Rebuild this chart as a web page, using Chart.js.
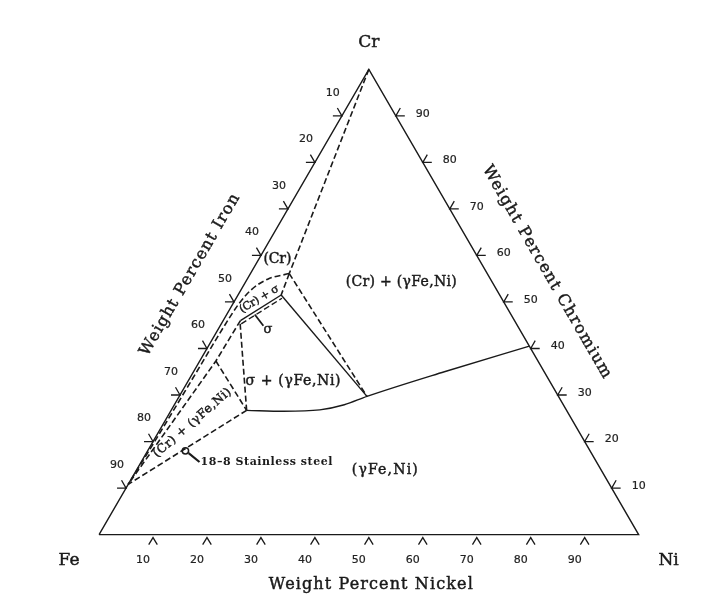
<!DOCTYPE html>
<html><head><meta charset="utf-8">
<script src="https://cdn.jsdelivr.net/npm/chart.js@4.4.1/dist/chart.umd.min.js"></script>
<style>html,body{margin:0;padding:0;background:#fff;} #wrap{width:716px;height:598px;position:relative;}</style>
</head><body><div id="wrap"><canvas id="c"></canvas></div>
<script>
// ---- Data: compositions as [Ni wt%, Cr wt%] (Fe = remainder) ----
const tickValues = [10, 20, 30, 40, 50, 60, 70, 80, 90];
const triangleEdge = [[0, 0], [100, 0], [0, 100], [0, 0]];          // Fe -> Ni -> Cr -> Fe
const crToJ1 = [[0, 100], [7.2, 56.1]];                               // (Cr) / (Cr)+(gFe,Ni)
const j1ToG1 = [[7.2, 56.1], [34.8, 29.7]];
const j1ToS2 = [[7.2, 56.1], [8.0, 51.5]];
const s2ToG1 = [[8.0, 51.5], [34.8, 29.7]];
const sigmaUpper = [[3.2, 46.0], [8.0, 51.5]];
const sigmaLower = [[3.7, 45.3], [8.5, 50.8]];
const crArc = [[7.2, 56.1], [3.8, 54.9], [1.9, 52.6], [1.1, 49.5], [0.8, 45.0], [0.6, 35.0], [0.3, 20.0], [0, 10.8]];
const s3WF = [[3.2, 46.0], [3.0, 37.3], [0, 10.8]];
const s3ToV = [[3.5, 45.3], [14.0, 26.7]];
const wToV = [[3.0, 37.3], [14.0, 26.7]];
const vToF = [[14.0, 26.7], [0, 10.8]];
const gammaBoundary = [[14.0, 26.7], [21.0, 26.5], [27.5, 26.8], [31.5, 27.9], [34.8, 29.7], [46.5, 35.0], [59.5, 40.5]];
const steel188 = [[7.0, 18.0]];

// ---- ternary -> cartesian ----
const S3 = Math.sqrt(3) / 2;
const toXY = p => ({ x: p[0] + p[1] / 2, y: p[1] * S3 });

function line(pts, dashed, width, smooth) {
  return {
    data: pts.map(toXY), showLine: true, borderColor: '#1a1a1a', backgroundColor: '#1a1a1a',
    borderWidth: width || 1.3, borderDash: dashed ? [6, 3] : [], pointRadius: 0,
    tension: smooth ? 0.4 : 0, cubicInterpolationMode: smooth ? 'monotone' : 'default',
    fill: false, clip: false
  };
}

const datasets = [
  line(triangleEdge, false, 1.4),
  line(crToJ1, true, 1.6),
  line(j1ToG1, true, 1.6),
  line(j1ToS2, true, 1.6),
  line(s2ToG1, false, 1.4),
  line(sigmaUpper, false, 1.4),
  line(sigmaLower, true, 1.4),
  line(crArc, true, 1.6, true),
  line(s3WF, true, 1.6),
  line(s3ToV, true, 1.6),
  line(wToV, true, 1.6),
  line(vToF, true, 1.6),
  line(gammaBoundary, false, 1.4, true),
  { data: steel188.map(toXY), showLine: false, pointRadius: 3.2, pointBackgroundColor: '#fff',
    pointBorderColor: '#1a1a1a', pointBorderWidth: 1.5, clip: false }
];

// ---- labels (positions as compositions) ----
const regionLabels = [
  { t: '(Cr)', p: [3.5, 59.1], w: 28 },
  { t: '(Cr) + (\u03b3Fe,Ni)', p: [28.9, 54.2], w: 111 },
  { t: '(Cr) + \u03c3', p: [4.4, 50.6], w: 44, rot: -31, size: 11 },
  { t: '\u03c3', p: [9.3, 44.0], size: 13 },
  { t: '\u03c3 + (\u03b3Fe,Ni)', p: [19.5, 32.9], w: 95 },
  { t: '(Cr) + (\u03b3Fe,Ni)', p: [5.3, 24.0], w: 99, rot: -41, size: 12 },
  { t: '(\u03b3Fe,Ni)', p: [46.0, 13.9], w: 66 }
];

function drawText(ctx, s, x, y, o) {
  ctx.save();
  ctx.font = o.font;
  ctx.fillStyle = o.color || '#1a1a1a';
  ctx.strokeStyle = o.color || '#1a1a1a';
  const sw = o.stroke == null ? 0.45 : o.stroke;
  if (sw > 0) ctx.lineWidth = sw;
  ctx.setLineDash([]);
  ctx.textAlign = o.align || 'center';
  ctx.textBaseline = 'middle';
  ctx.translate(x, y);
  if (o.rot) ctx.rotate(o.rot * Math.PI / 180);
  let shift = 0;
  if (o.w && 'letterSpacing' in ctx) {
    ctx.letterSpacing = '0px';
    const w = ctx.measureText(s).width;
    const n = [...s].length;
    let ls = (o.w - w) / Math.max(1, n - 1);
    ls = Math.max(-1.5, Math.min(5, ls));
    ctx.letterSpacing = ls.toFixed(2) + 'px';
    if ((o.align || 'center') === 'center') shift = ls / 2;
  }
  ctx.fillText(s, shift, 0);
  if (sw > 0) ctx.strokeText(s, shift, 0);
  ctx.restore();
}

const decor = {
  id: 'decor',
  afterDatasetsDraw(chart) {
    const ctx = chart.ctx, sx = chart.scales.x, sy = chart.scales.y;
    const P = p => { const q = toXY(p); return [sx.getPixelForValue(q.x), sy.getPixelForValue(q.y)]; };
    ctx.save();
    ctx.setLineDash([]);
    const L = 9;
    const tickFont = '11px "DejaVu Sans"';
    const tk = { font: tickFont, color: '#222', stroke: 0.2 };
    tickValues.forEach(v => {
      ctx.strokeStyle = '#1a1a1a'; ctx.lineWidth = 1.3;
      // bottom (Ni)
      let [x, y] = P([v, 0]);
      ctx.beginPath();
      ctx.moveTo(x - 4.3, y + 10); ctx.lineTo(x, y + 3); ctx.lineTo(x + 4.3, y + 10); ctx.stroke();
      // left (Fe): Fe = v -> Cr = 100 - v
      let [lx, ly] = P([0, 100 - v]);
      ctx.beginPath();
      ctx.moveTo(lx - L, ly); ctx.lineTo(lx, ly); ctx.lineTo(lx - L * 0.5, ly - L * S3); ctx.stroke();
      // right (Cr)
      let [rx, ry] = P([100 - v, v]);
      ctx.beginPath();
      ctx.moveTo(rx + L, ry); ctx.lineTo(rx, ry); ctx.lineTo(rx + L * 0.5, ry - L * S3); ctx.stroke();
      drawText(ctx, String(v), x - 10, y + 26, tk);
      drawText(ctx, String(v), lx - 9, ly - 23, tk);
      drawText(ctx, String(v), rx + 27, ry - 2, tk);
    });

    // corner labels
    const cf = '17px "DejaVu Serif"';
    let [x, y] = P([0, 100]); drawText(ctx, 'Cr', x, y - 27, { font: cf });
    [x, y] = P([0, 0]); drawText(ctx, 'Fe', x - 30, y + 26, { font: cf });
    [x, y] = P([100, 0]); drawText(ctx, 'Ni', x + 30, y + 26, { font: cf });

    // axis titles
    const tf = '16px "DejaVu Serif"';
    [x, y] = P([0, 50]);
    drawText(ctx, 'Weight Percent Iron', x - 44, y - 27, { font: tf, rot: -60, w: 184 });
    [x, y] = P([50, 50]);
    drawText(ctx, 'Weight Percent Chromium', x + 43, y - 30, { font: tf, rot: 60, w: 243 });
    [x, y] = P([50, 0]);
    drawText(ctx, 'Weight Percent Nickel', x + 2, y + 50, { font: tf, w: 204 });

    // region labels
    regionLabels.forEach(r => {
      const [px, py] = P(r.p);
      drawText(ctx, r.t, px, py, { font: (r.size || 14) + 'px "DejaVu Serif"', rot: r.rot, w: r.w });
    });

    // sigma leader
    let [ax, ay] = P([5.2, 47.3]), [bx, by] = P([8.0, 44.9]);
    ctx.strokeStyle = '#1a1a1a';
    ctx.lineWidth = 1.8;
    ctx.beginPath(); ctx.moveTo(ax, ay); ctx.lineTo(bx, by); ctx.stroke();
    // 18-8 leader + text
    [ax, ay] = P(steel188[0]);
    [bx, by] = P([11.0, 15.6]);
    const ang = Math.atan2(by - ay, bx - ax);
    ctx.lineWidth = 2.2;
    ctx.beginPath(); ctx.moveTo(ax + 4 * Math.cos(ang), ay + 4 * Math.sin(ang)); ctx.lineTo(bx - 1, by); ctx.stroke();
    drawText(ctx, '18\u20138 Stainless steel', bx, by, { font: 'bold 11px "DejaVu Serif"', align: 'left', w: 132, stroke: 0 });
    ctx.restore();
  }
};

new Chart(document.getElementById('c'), {
  type: 'scatter',
  data: { datasets },
  options: {
    responsive: true, maintainAspectRatio: false, animation: false,
    layout: { padding: 0 },
    plugins: { legend: { display: false }, tooltip: { enabled: false } },
    scales: {
      x: { type: 'linear', min: -17.34, max: 113.32, display: false },
      y: { type: 'linear', min: -10.78, max: 98.48, display: false }
    }
  },
  plugins: [decor]
});
</script>
</body></html>
